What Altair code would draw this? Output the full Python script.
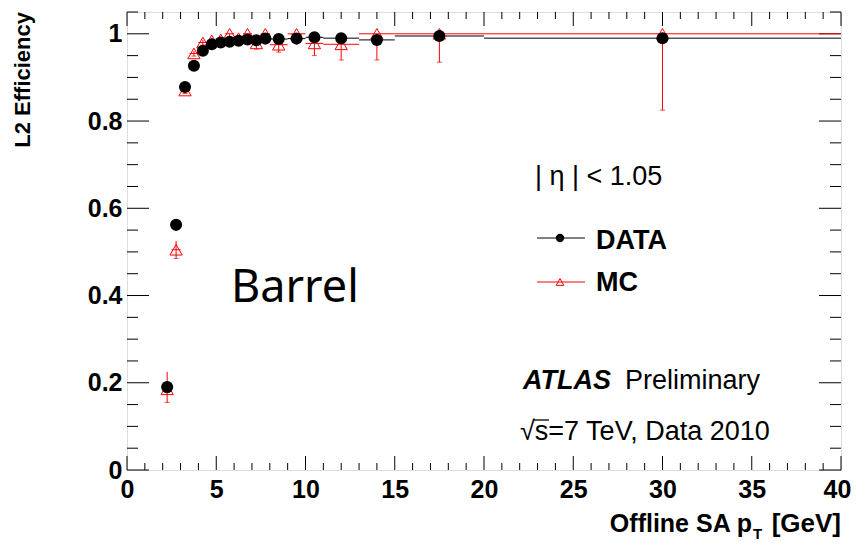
import altair as alt
import pandas as pd

# ---------------- data ----------------
bin_lo = [2, 2.5, 3, 3.5, 4, 4.5, 5, 5.5, 6, 6.5, 7, 7.5, 8, 9, 10, 11, 13, 15, 20]
bin_hi = [2.5, 3, 3.5, 4, 4.5, 5, 5.5, 6, 6.5, 7, 7.5, 8, 9, 10, 11, 13, 15, 20, 40]
pt_center = [2.25, 2.75, 3.25, 3.75, 4.25, 4.75, 5.25, 5.75, 6.25, 6.75, 7.25, 7.75,
             8.5, 9.5, 10.5, 12, 14, 17.5, 30]

data_eff = [0.19, 0.562, 0.878, 0.927, 0.961, 0.976, 0.980, 0.982, 0.984, 0.987,
            0.985, 0.989, 0.988, 0.989, 0.992, 0.990, 0.986, 0.995, 0.990]
data_err = [0.012, 0.008, 0.005, 0.004, 0.003, 0.003, 0.003, 0.003, 0.003, 0.003,
            0.003, 0.003, 0.003, 0.003, 0.003, 0.004, 0.006, 0.005, 0.008]

mc_eff = [0.185, 0.505, 0.870, 0.955, 0.980, 0.985, 0.987, 1.0, 0.990, 1.0,
          0.978, 1.0, 0.975, 1.0, 0.978, 0.976, 1.0, 1.0, 1.0]
mc_err_lo = [0.030, 0.020, 0.007, 0.006, 0.006, 0.007, 0.007, 0.008, 0.009, 0.008,
             0.013, 0.010, 0.017, 0.012, 0.028, 0.036, 0.060, 0.065, 0.175]
mc_err_hi = [0.040, 0.020, 0.007, 0.006, 0.006, 0.006, 0.006, 0.0, 0.005, 0.0,
             0.010, 0.0, 0.012, 0.0, 0.018, 0.020, 0.0, 0.0, 0.0]

x_major = [0, 5, 10, 15, 20, 25, 30, 35, 40]
x_minor = [1, 2, 3, 4, 6, 7, 8, 9, 11, 12, 13, 14, 16, 17, 18, 19, 21, 22, 23, 24,
           26, 27, 28, 29, 31, 32, 33, 34, 36, 37, 38, 39]
y_major = [0, 0.2, 0.4, 0.6, 0.8, 1.0]
y_minor = [0.05, 0.1, 0.15, 0.25, 0.3, 0.35, 0.45, 0.5, 0.55, 0.65, 0.7, 0.75,
           0.85, 0.9, 0.95, 1.05]

# ---------------- chart ----------------
W, H = 714, 458
FONT = "Liberation Sans"

df = pd.DataFrame({
    "pt": pt_center, "lo": bin_lo, "hi": bin_hi,
    "d": data_eff, "d_lo": [v - e for v, e in zip(data_eff, data_err)],
    "d_hi": [v + e for v, e in zip(data_eff, data_err)],
    "m": mc_eff, "m_lo": [v - e for v, e in zip(mc_eff, mc_err_lo)],
    "m_hi": [v + e for v, e in zip(mc_eff, mc_err_hi)],
})

xs = alt.Scale(domain=[0, 40], nice=False, zero=False)
ys = alt.Scale(domain=[0, 1.05], nice=False, zero=False)


def X(f):
    return alt.X(f"{f}:Q", scale=xs, title=None)


def Y(f):
    return alt.Y(f"{f}:Q", scale=ys, title=None)


base = alt.Chart(df)

axes = base.mark_point(opacity=0).encode(
    x=alt.X("pt:Q", scale=xs, title=None,
            axis=alt.Axis(values=x_major, grid=False, domain=False, ticks=False, tickSize=0,
                          labelFont=FONT, labelFontSize=25, labelFontWeight="bold",
                          labelColor="black", labelPadding=7, labelFlush=False,
                          labelOffset={"condition": {"test": "datum.value === 40", "value": -4},
                                       "value": 0})),
    y=alt.Y("d:Q", scale=ys, title=None,
            axis=alt.Axis(values=y_major, format="~g", grid=False, domain=False, ticks=False,
                          tickSize=0, labelFont=FONT, labelFontSize=25, labelFontWeight="bold",
                          labelColor="black", labelPadding=5, labelFlush=False)),
)


def xticks(vals, length):
    d = alt.Chart(pd.DataFrame({"v": vals}))
    bot = d.mark_rule(color="black", strokeWidth=1).encode(
        x=X("v"), y=alt.value(H), y2=alt.value(H - length))
    top = d.mark_rule(color="black", strokeWidth=1).encode(
        x=X("v"), y=alt.value(0), y2=alt.value(length))
    return [bot, top]


def yticks(vals, length):
    d = alt.Chart(pd.DataFrame({"v": vals}))
    left = d.mark_rule(color="black", strokeWidth=1).encode(
        y=Y("v"), x=alt.value(0), x2=alt.value(length))
    right = d.mark_rule(color="black", strokeWidth=1).encode(
        y=Y("v"), x=alt.value(W), x2=alt.value(W - length))
    return [left, right]


tick_layers = (xticks(x_major, 14) + xticks(x_minor, 7)
               + yticks(y_major, 22) + yticks(y_minor, 11))

RED = "#ff0000"
mc_h = base.mark_rule(color=RED, strokeWidth=1).encode(x=X("lo"), x2="hi", y=Y("m"))
mc_v = base.mark_rule(color=RED, strokeWidth=1).encode(x=X("pt"), y=Y("m_lo"), y2="m_hi")
mc_cap_lo = base.mark_tick(color=RED, orient="horizontal", size=5, thickness=1).encode(
    x=X("pt"), y=Y("m_lo"))
mc_pts = base.mark_point(shape="triangle-up", filled=False, color=RED, size=150,
                         strokeWidth=1, opacity=1).encode(x=X("pt"), y=Y("m"))

d_h = base.mark_rule(color="black", strokeWidth=1).encode(x=X("lo"), x2="hi", y=Y("d"))
d_v = base.mark_rule(color="black", strokeWidth=1).encode(x=X("pt"), y=Y("d_lo"), y2="d_hi")
d_pts = base.mark_circle(color="black", size=145, opacity=1).encode(x=X("pt"), y=Y("d"))


def label(text, x, y, size=27, weight="normal", style="normal", align="left",
          baseline="alphabetic", font=FONT, angle=0):
    return alt.Chart(pd.DataFrame({"t": [text]})).mark_text(
        align=align, baseline=baseline, fontSize=size, fontWeight=weight,
        fontStyle=style, font=font, angle=angle, color="black"
    ).encode(x=alt.value(x), y=alt.value(y), text="t:N")


one = alt.Chart(pd.DataFrame({"a": [0]}))
leg = [
    one.mark_rule(color="black", strokeWidth=1).encode(
        x=alt.value(410), x2=alt.value(458), y=alt.value(226)),
    one.mark_circle(color="black", size=70, opacity=1).encode(
        x=alt.value(433), y=alt.value(226)),
    one.mark_rule(color=RED, strokeWidth=1).encode(
        x=alt.value(410), x2=alt.value(458), y=alt.value(270)),
    one.mark_point(shape="triangle-up", filled=False, color=RED, size=60,
                   strokeWidth=1, opacity=1).encode(x=alt.value(433), y=alt.value(270)),
    # overline of the square root
    one.mark_rule(color="black", strokeWidth=1.3).encode(
        x=alt.value(407), x2=alt.value(422), y=alt.value(408)),
]

texts = [
    label("L2 Efficiency", -104, 0, size=22, weight="bold", angle=270,
          align="right", baseline="middle"),
    label("Offline SA p", 625, 520, size=25, weight="bold", align="right"),
    label("T", 626, 527, size=15, weight="bold", align="left"),
    label("[GeV]", 714, 520, size=26, weight="bold", align="right"),
    label("| \u03b7 | < 1.05", 408, 173, size=27),
    label("DATA", 469, 237, size=27, weight="bold"),
    label("MC", 469, 279, size=27, weight="bold"),
    label("Barrel", 104, 290, size=45, font="Noto Sans"),
    label("ATLAS", 396, 377, size=27, weight="bold", style="italic"),
    label("Preliminary", 498, 377, size=27),
    label("\u221as=7 TeV, Data 2010", 393, 428, size=27),
]

chart = alt.layer(
    axes, *tick_layers, mc_h, mc_v, mc_cap_lo, mc_pts, d_h, d_v, d_pts, *leg, *texts
).properties(
    width=W, height=H,
    autosize=alt.AutoSizeParams(type="none"),
    padding={"left": 119, "top": 4, "right": 12, "bottom": 74},
).configure_view(
    stroke="black", strokeWidth=1.5
).configure(background="white")

chart.save("out.html", embed_options={"renderer": "svg", "actions": False})
